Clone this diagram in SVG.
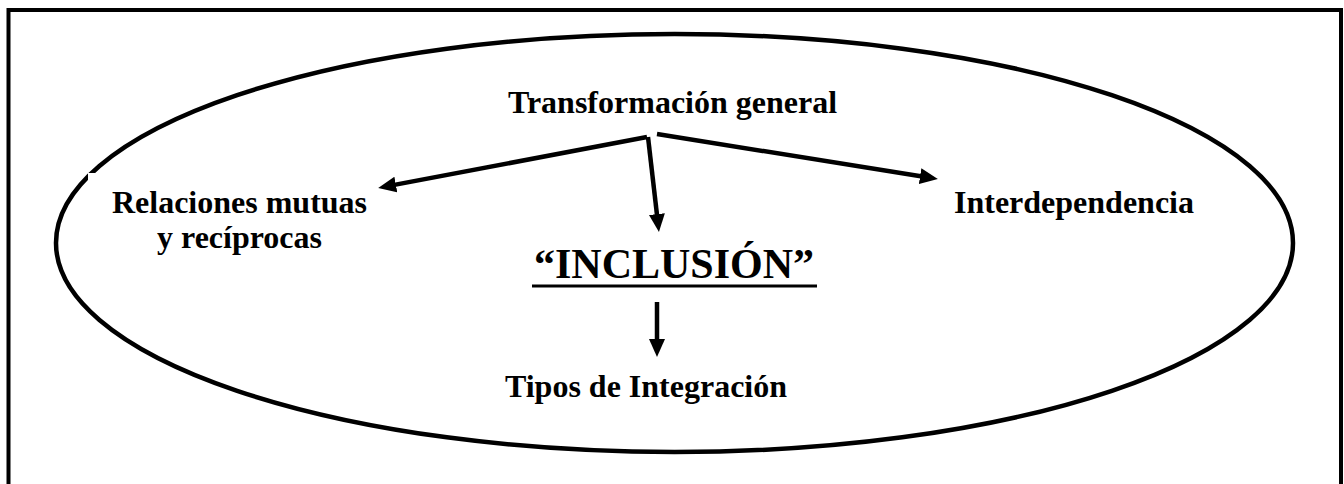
<svg xmlns="http://www.w3.org/2000/svg" width="1344" height="484" viewBox="0 0 1344 484">
  <style>
    .t { font-family: "Liberation Serif", "Times New Roman", serif; font-weight: bold; font-size: 32px; fill: #000; text-anchor: middle; }
    .big { font-size: 42px; }
    .conn { stroke: #000; stroke-width: 4.5; fill: none; marker-end: url(#ah); }
  </style>
  <defs>
    <marker id="ah" markerUnits="userSpaceOnUse" markerWidth="18" markerHeight="16" refX="7" refY="8" orient="auto">
      <path d="M0,0 L18,8 L0,16 z" fill="#000"/>
    </marker>
  </defs>
  <rect width="1344" height="484" fill="#fff"/>
  <rect id="frame" x="8.5" y="10" width="1332.5" height="490" fill="none" stroke="#000" stroke-width="4"/>
  <ellipse id="ellipse" cx="674.5" cy="243" rx="618.5" ry="209" fill="none" stroke="#000" stroke-width="4.5"/>

  <g id="node-transformacion">
    <text class="t" x="672.5" y="113">Transformación general</text>
  </g>
  <g id="node-relaciones">
    <rect x="88" y="173" width="287" height="80" fill="#fff"/>
    <text class="t" x="239.5" y="213">Relaciones mutuas</text>
    <text class="t" x="239.5" y="248">y recíprocas</text>
  </g>
  <g id="node-interdependencia">
    <text class="t" x="1074" y="213">Interdependencia</text>
  </g>
  <g id="node-inclusion">
    <text class="t big" x="674" y="278">“INCLUSIÓN”</text>
    <line x1="532" y1="286" x2="817" y2="286" stroke="#000" stroke-width="3"/>
  </g>
  <g id="node-tipos">
    <text class="t" x="646" y="397">Tipos de Integración</text>
  </g>

  <g id="connectors">
    <line class="conn" x1="647" y1="137" x2="389" y2="185.9"/>
    <line class="conn" x1="648" y1="137" x2="657.7" y2="221"/>
    <line class="conn" x1="657" y1="134" x2="927" y2="177.3"/>
    <line class="conn" x1="657" y1="302" x2="657" y2="346"/>
  </g>
</svg>
